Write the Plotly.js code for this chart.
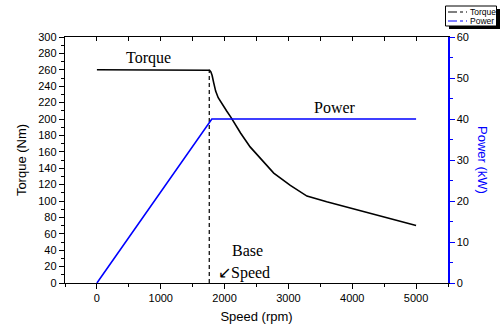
<!DOCTYPE html>
<html>
<head>
<meta charset="utf-8">
<script src="https://cdn.plot.ly/plotly-3.0.1.min.js"></script>
<style>html,body{margin:0;padding:0;background:#fff;}#chart{width:504px;height:324px;}</style>
</head>
<body>
<div id="chart"></div>
<script>
// Data
const torqueSpeed = [0, 1740, 1765, 1785, 1805, 1830, 1860, 1900, 1960, 2030, 2100, 2250, 2400, 2600, 2770, 3030, 3290, 3600, 4180, 5000];
const torqueNm    = [260, 260, 259.5, 257.5, 253, 244, 234, 226, 218, 210, 202, 183, 166, 149, 134, 119, 106, 99, 87, 70];
const powerSpeed  = [0, 1800, 5000];
const powerKW     = [0, 40, 40];
const baseSpeed   = 1760;
const baseSpeedY  = [0, 260];
const legendNames = ["Torque", "Power"];

const font = "Liberation Sans, Arial, sans-serif";
const serif = "Liberation Serif, Times New Roman, serif";

const traces = [
  {x: torqueSpeed, y: torqueNm, type: "scatter", mode: "lines",
   line: {color: "#000", width: 1.6}, showlegend: false, name: legendNames[0]},
  {x: [baseSpeed, baseSpeed], y: baseSpeedY, type: "scatter", mode: "lines",
   line: {color: "#000", width: 1.2, dash: "4px,3px"}, showlegend: false},
  {x: powerSpeed, y: powerKW, type: "scatter", mode: "lines", yaxis: "y2",
   line: {color: "#0000ff", width: 1.6}, showlegend: false, name: legendNames[1]},
  {x: [null], y: [null], xaxis: "x2", type: "scatter", mode: "lines", showlegend: false, hoverinfo: "skip"}
];

const tickFont = {family: font, size: 11, color: "#000"};

const layout = {
  width: 504, height: 324,
  margin: {l: 65, r: 56, t: 37, b: 41},
  paper_bgcolor: "#fff", plot_bgcolor: "#fff",
  showlegend: false,
  xaxis: {
    range: [-500, 5500], tick0: 0, dtick: 1000,
    ticks: "outside", ticklen: 5, tickwidth: 1, tickcolor: "#000",
    minor: {dtick: 500, tick0: 0, ticks: "outside", ticklen: 3, tickcolor: "#000"},
    showline: true, linecolor: "#000", linewidth: 1.2,
    showgrid: false, zeroline: false, tickfont: tickFont,
    title: {text: "Speed (rpm)", font: {family: font, size: 13, color: "#000"}, standoff: 8}
  },
  xaxis2: {
    overlaying: "x", side: "top", range: [-500, 5500], tick0: 0, dtick: 500,
    ticks: "inside", ticklen: 4, tickcolor: "#000", showticklabels: false,
    showline: true, linecolor: "#000", linewidth: 1.2, showgrid: false, zeroline: false
  },
  yaxis: {
    range: [0, 300], dtick: 20,
    ticks: "outside", ticklen: 5, tickcolor: "#000",
    minor: {dtick: 10, ticks: "outside", ticklen: 3, tickcolor: "#000"},
    showline: true, linecolor: "#000", linewidth: 1.2,
    showgrid: false, zeroline: false, tickfont: tickFont,
    title: {text: "Torque (Nm)", font: {family: font, size: 13, color: "#000"}, standoff: 8}
  },
  yaxis2: {
    overlaying: "y", side: "right", range: [0, 60], dtick: 10,
    ticks: "outside", ticklen: 5, tickcolor: "#0000ff",
    minor: {dtick: 5, ticks: "outside", ticklen: 3, tickcolor: "#0000ff"},
    showline: true, linecolor: "#0000ff", linewidth: 1.5,
    showgrid: false, zeroline: false, tickfont: tickFont
  },
  shapes: [
    // legend box with shadow
    {type: "rect", xref: "paper", yref: "paper", x0: 1.0 + (449-448)/383, x1: 1.0 + (500-448)/383,
     y0: 1 + (37-29)/246, y1: 1 + (37-9)/246, fillcolor: "#000", line: {width: 0}},
    {type: "rect", xref: "paper", yref: "paper", x0: 1.0 + (445.5-448)/383, x1: 1.0 + (496.5-448)/383,
     y0: 1 + (37-26)/246, y1: 1 + (37-6)/246, fillcolor: "#fff", line: {color: "#000", width: 1}},
    {type: "line", xref: "paper", yref: "paper", x0: 1.0 + (448-448)/383, x1: 1.0 + (467-448)/383,
     y0: 1 + (37-12)/246, y1: 1 + (37-12)/246, line: {color: "#000", width: 1.2, dash: "dashdot"}},
    {type: "line", xref: "paper", yref: "paper", x0: 1.0 + (448-448)/383, x1: 1.0 + (467-448)/383,
     y0: 1 + (37-21)/246, y1: 1 + (37-21)/246, line: {color: "#0000ff", width: 1.2, dash: "dashdot"}}
  ],
  annotations: [
    {text: "Torque", x: 420, y: 275, xref: "x", yref: "y", xanchor: "left", yanchor: "middle",
     showarrow: false, font: {family: serif, size: 16, color: "#000"}},
    {text: "Power", x: 3375, y: 214, xref: "x", yref: "y", xanchor: "left", yanchor: "middle",
     showarrow: false, font: {family: serif, size: 16, color: "#000"}},
    {text: "Base", x: 2090, y: 40, xref: "x", yref: "y", xanchor: "left", yanchor: "middle",
     showarrow: false, font: {family: serif, size: 16, color: "#000"}},
    {text: "↙Speed", x: 1860, y: 12, xref: "x", yref: "y", xanchor: "left", yanchor: "middle",
     showarrow: false, font: {family: serif, size: 16, color: "#000"}},
    {text: "Power (kW)", textangle: 90, xref: "paper", yref: "paper", x: 1 + (483-448)/383, y: 0.5,
     xanchor: "center", yanchor: "middle", showarrow: false,
     font: {family: font, size: 13, color: "#0000ff"}},
    {text: legendNames[0], xref: "paper", yref: "paper", x: 1 + (468-448)/383, y: 1 + (37-12)/246,
     xanchor: "left", yanchor: "middle", showarrow: false, font: {family: font, size: 8.5, color: "#000"}},
    {text: legendNames[1], xref: "paper", yref: "paper", x: 1 + (468-448)/383, y: 1 + (37-21)/246,
     xanchor: "left", yanchor: "middle", showarrow: false, font: {family: font, size: 8.5, color: "#000"}}
  ]
};

Plotly.newPlot("chart", traces, layout, {displayModeBar: false, staticPlot: true});
</script>
</body>
</html>
